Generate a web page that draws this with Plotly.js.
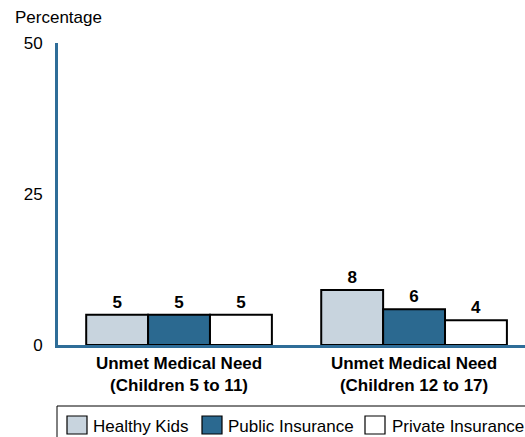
<!DOCTYPE html>
<html>
<head>
<meta charset="utf-8">
<script src="https://cdn.plot.ly/plotly-3.0.1.min.js"></script>
<style>
html,body{margin:0;padding:0;background:#fff;}
#chart{width:525px;height:437px;}
</style>
</head>
<body>
<div id="chart"></div>
<script>
// ---- data ----
var categories = ["Unmet Medical Need<br>(Children 5 to 11)", "Unmet Medical Need<br>(Children 12 to 17)"];
var seriesNames = ["Healthy Kids", "Public Insurance", "Private Insurance"];
var healthyKids = [5, 9.1];
var publicIns = [5, 5.9];
var privateIns = [5, 4.1];
var healthyLabels = ["5", "8"];
var publicLabels = ["5", "6"];
var privateLabels = ["5", "4"];
var yTicks = [0, 25, 50];
var yTitle = "Percentage";

// ---- style ----
var FONT = "Liberation Sans, Arial, Helvetica, sans-serif";
var colors = ["#c8d4de", "#2b6990", "#ffffff"];
var axisColor = "#2f6d98";
var W = 525, H = 437;
var mL = 58, mR = 0, mT = 43, mB = 92;
var plotW = W - mL - mR, plotH = H - mT - mB;
function px(x) { return (x - mL) / plotW; }
function py(y) { return (H - mB - y) / plotH; }

var values = [healthyKids, publicIns, privateIns];
var labels = [healthyLabels, publicLabels, privateLabels];

var traces = seriesNames.map(function (name, i) {
  return {
    type: "bar",
    name: name,
    x: categories,
    y: values[i],
    text: labels[i],
    texttemplate: "%{text}",
    textposition: "outside",
    textfont: {family: FONT, size: 17, color: "#000", weight: "bold"},
    cliponaxis: false,
    marker: {color: colors[i], line: {color: "#000", width: 2}},
    hoverinfo: "skip",
    showlegend: false
  };
});

// custom legend
var shapes = [];
var annotations = [];
shapes.push({type: "rect", xref: "paper", yref: "paper",
  x0: px(57), x1: px(545), y0: py(406), y1: py(450),
  line: {color: "#000", width: 1}, fillcolor: "rgba(0,0,0,0)"});
var swX = [67, 202, 365];
var txX = [91, 226, 390];
seriesNames.forEach(function (name, i) {
  shapes.push({type: "rect", xref: "paper", yref: "paper",
    x0: px(swX[i]), x1: px(swX[i] + 20), y0: py(416), y1: py(434),
    line: {color: "#000", width: 1.2}, fillcolor: colors[i]});
  annotations.push({xref: "paper", yref: "paper", x: px(txX[i]), y: py(426),
    xanchor: "left", yanchor: "middle", showarrow: false, text: name,
    font: {family: FONT, size: 17, color: "#000"}});
});
annotations.push({xref: "paper", yref: "paper", x: px(13), y: py(18),
  xanchor: "left", yanchor: "middle", showarrow: false, text: yTitle,
  font: {family: FONT, size: 17, color: "#000"}});

var layout = {
  width: W, height: H,
  margin: {l: mL, r: mR, t: mT, b: mB, pad: 0},
  paper_bgcolor: "#fff", plot_bgcolor: "#fff",
  barmode: "group", bargap: 0.21, bargroupgap: 0,
  showlegend: false,
  font: {family: FONT, size: 17, color: "#000"},
  xaxis: {
    type: "category",
    range: [-0.515, 1.472],
    showline: true, linecolor: axisColor, linewidth: 2.5,
    showgrid: false, zeroline: false, ticks: "",
    tickfont: {family: FONT, size: 17, color: "#000", weight: "bold"},
    ticklabelstandoff: 1,
    fixedrange: true
  },
  yaxis: {
    range: [0, 50],
    tickvals: yTicks,
    ticktext: yTicks.map(String),
    showline: true, linecolor: axisColor, linewidth: 3,
    showgrid: false, zeroline: false, ticks: "",
    ticklabelstandoff: 9,
    tickfont: {family: FONT, size: 17, color: "#000"},
    fixedrange: true
  },
  shapes: shapes,
  annotations: annotations
};

Plotly.newPlot("chart", traces, layout, {displayModeBar: false, staticPlot: true});
</script>
</body>
</html>
